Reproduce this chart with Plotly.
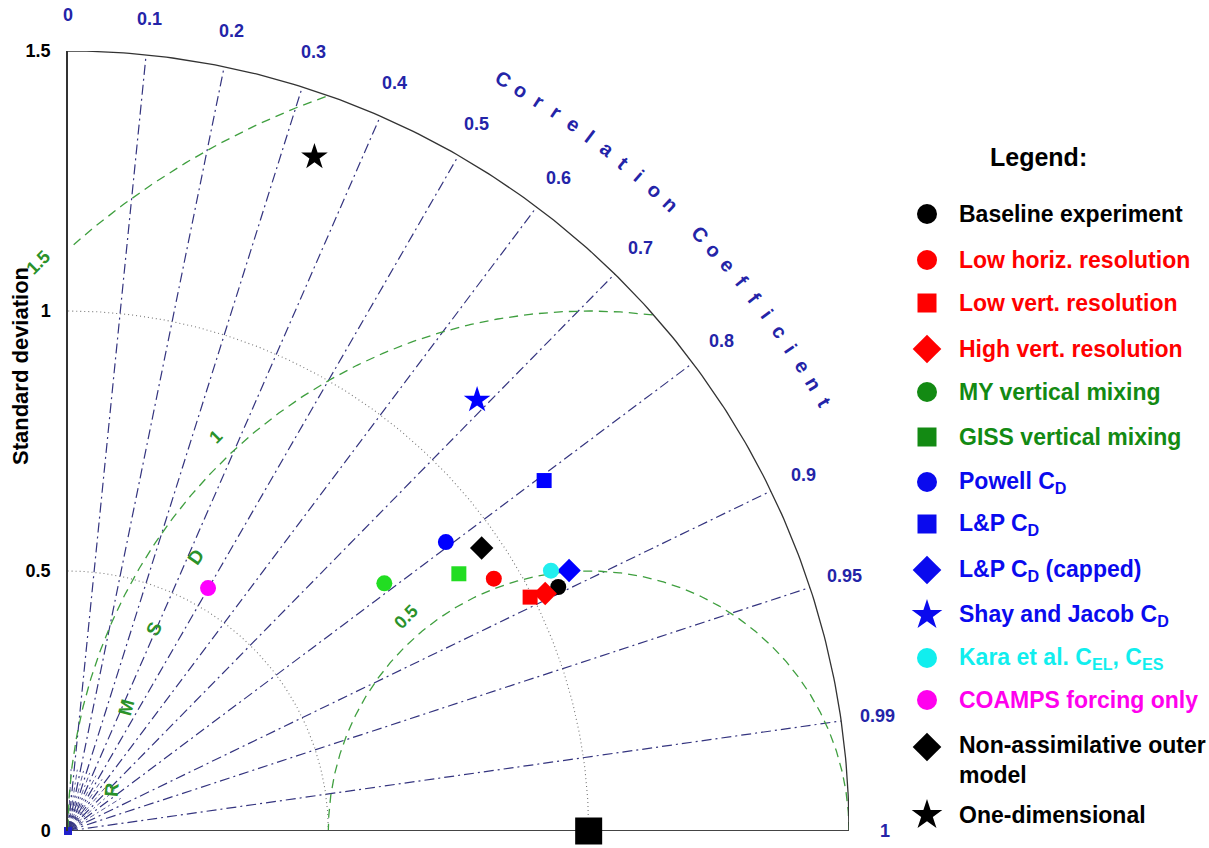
import numpy as np
import plotly.graph_objects as go

# ---------------- data ----------------
experiments = [
    "Baseline experiment", "Low horiz. resolution", "Low vert. resolution",
    "High vert. resolution", "MY vertical mixing", "GISS vertical mixing",
    "Powell C<sub>D</sub>", "L&amp;P C<sub>D</sub>", "L&amp;P C<sub>D</sub> (capped)",
    "Shay and Jacob C<sub>D</sub>", "Kara et al. C<sub>EL</sub>, C<sub>ES</sub>",
    "COAMPS forcing only", "Non-assimilative outer<br>model", "One-dimensional",
]
std_dev = [1.052, 0.951, 0.995, 1.024, 0.772, 0.899, 0.914, 1.136, 1.085,
           1.142, 1.054, 0.539, 0.963, 1.380]
correlation = [0.895, 0.860, 0.892, 0.895, 0.787, 0.835, 0.794, 0.805, 0.887,
               0.688, 0.880, 0.499, 0.825, 0.343]
symbols = ["circle", "circle", "square", "diamond", "circle", "square", "circle",
           "square", "diamond", "star", "circle", "circle", "diamond", "star"]
marker_colors = ["#000000", "#ff0000", "#ff0000", "#ff0000", "#22dd22", "#22dd22",
                 "#0000ff", "#0000ff", "#0000ff", "#0000ff", "#22eeee", "#ff00ff",
                 "#000000", "#000000"]
legend_colors = ["#000000", "#ff0000", "#ff0000", "#ff0000", "#138a13", "#138a13",
                 "#0a0aee", "#0a0aee", "#0a0aee", "#0a0aee", "#11eeee", "#ff00ee",
                 "#000000", "#000000"]
ref_std = 1.0
corr_ticks = [0.0, 0.1, 0.2, 0.3, 0.4, 0.5, 0.6, 0.7, 0.8, 0.9, 0.95, 0.99, 1.0]
corr_tick_labels = ["0", "0.1", "0.2", "0.3", "0.4", "0.5", "0.6", "0.7", "0.8",
                    "0.9", "0.95", "0.99", "1"]
corr_fine = [0.05, 0.15, 0.25, 0.35, 0.45, 0.55, 0.65, 0.75, 0.85]
std_ticks = [0, 0.5, 1, 1.5]
std_tick_labels = ["0", "0.5", "1", "1.5"]
std_arcs = [0.5, 1.0]
rmsd_levels = [0.5, 1.0, 1.5]
rmsd_labels = ["0.5", "1", "1.5"]
std_max = 1.5

# ---------------- geometry helpers ----------------
W, H = 1209, 848
X0, Y0, X1, Y1 = 68, 831, 849, 51          # pixel frame of the Taylor quadrant
SX, SY = (X1 - X0) / std_max, (Y0 - Y1) / std_max


def d2p(x, y):
    """data coordinates -> paper coordinates (paper = whole figure, margins are 0)"""
    return (X0 + x * SX) / W, 1 - (Y0 - y * SY) / H


FONT = "Liberation Sans"
CORR_BLUE = "#2424a8"
GRID_BLUE = "#34347f"
RMS_GREEN = "#3f9f3f"
LBL_GREEN = "#2a922a"

fig = go.Figure()


def add_line(x, y, color, width, dash):
    fig.add_trace(go.Scatter(x=x, y=y, mode="lines", hoverinfo="skip",
                             line=dict(color=color, width=width, dash=dash),
                             showlegend=False, cliponaxis=False))


# fine correlation lines near the origin
for r in corr_fine:
    th = np.arccos(r)
    add_line([0, 0.12 * np.cos(th)], [0, 0.12 * np.sin(th)], GRID_BLUE, 0.8, "5px,3px,2px,3px")

# correlation lines
for r in corr_ticks[1:-1]:
    th = np.arccos(r)
    add_line([0, std_max * np.cos(th)], [0, std_max * np.sin(th)], GRID_BLUE, 1.2,
             "10px,4px,2px,4px")

# std dotted arcs
t = np.linspace(0, np.pi / 2, 200)
for s in std_arcs:
    add_line(s * np.cos(t), s * np.sin(t), "#777777", 1.1, "1px,3px")

# RMSD circles
for rho in rmsd_levels:
    phi = np.linspace(0, np.pi, 600)
    xs = ref_std + rho * np.cos(phi)
    ys = rho * np.sin(phi)
    keep = (xs >= -1e-9) & (xs ** 2 + ys ** 2 <= std_max ** 2 + 1e-6)
    add_line(xs[keep], ys[keep], RMS_GREEN, 1.3, "9px,6px")

# outer arc and bottom axis
add_line(std_max * np.cos(t), std_max * np.sin(t), "#333333", 1.3, "solid")
add_line([0, std_max], [0, 0], "#444444", 2.2, "solid")

# origin mark and reference point
fig.add_trace(go.Scatter(x=[0], y=[0], mode="markers", showlegend=False, cliponaxis=False,
                         marker=dict(symbol="square", size=8, color="#2020cc")))
fig.add_trace(go.Scatter(x=[ref_std], y=[0], mode="markers", showlegend=False, cliponaxis=False,
                         marker=dict(symbol="square", size=27, color="#000000")))

# experiments
sizes_plot = {"circle": 16, "square": 15, "diamond": 18, "star": 20}
for name, s, r, sym, col in zip(experiments, std_dev, correlation, symbols, marker_colors):
    fig.add_trace(go.Scatter(
        x=[s * r], y=[s * np.sqrt(1 - r ** 2)], mode="markers", name=name,
        showlegend=False, cliponaxis=False,
        marker=dict(symbol=sym, size=sizes_plot[sym], color=col, line=dict(width=0))))

ann = []


def centred(x, y, text, size, color, angle=0, bold=True):
    ann.append(dict(x=x, y=y, text=text, showarrow=False, xref="paper", yref="paper",
                    xanchor="center", yanchor="middle", textangle=angle,
                    font=dict(family=FONT, size=size, color=color,
                              weight="bold" if bold else "normal")))


# correlation tick labels
for r, lab in zip(corr_ticks, corr_tick_labels):
    th = np.arccos(r)
    centred(*d2p(1.57 * np.cos(th), 1.57 * np.sin(th)), lab, 18, CORR_BLUE)

# curved "Correlation Coefficient"
title = "Correlation Coefficient"
for i, ch in enumerate(title):
    if ch == " ":
        continue
    ang = 60.0 - i * 1.382
    a = np.radians(ang)
    centred(*d2p(1.67 * np.cos(a), 1.67 * np.sin(a)), ch, 20, CORR_BLUE, angle=90 - ang)

# RMSD labels
rms_lab_ang = [130.5, 133.4, 134.0]
rms_lab_off = [0.04, 0.043, 0.02]
for rho, lab, ang, off in zip(rmsd_levels, rmsd_labels, rms_lab_ang, rms_lab_off):
    a = np.radians(ang)
    d = rho + off
    centred(*d2p(ref_std + d * np.cos(a), d * np.sin(a)), lab, 18, LBL_GREEN, angle=-45)
for k, ch in enumerate("RMSD"):
    phi = 175 - 10 * k
    a = np.radians(phi)
    centred(*d2p(ref_std + 0.92 * np.cos(a), 0.92 * np.sin(a)), ch, 19, LBL_GREEN,
            angle=-(phi - 90))

# y-axis title
centred(20 / W, 1 - 366 / H, "Standard deviation", 22, "#000000", angle=-90)

# ---------------- legend (drawn by hand on a pixel-unit subplot) ----------------
ann.append(dict(x=1038, y=157, text="Legend:", showarrow=False, xref="x2", yref="y2",
                xanchor="center", yanchor="middle",
                font=dict(family=FONT, size=25, color="#000000", weight="bold")))
row_y = [214, 260, 303, 349, 392, 437, 482, 524, 570, 615, 658, 700, 747, 815]
sizes_leg = {"circle": 20, "square": 19, "diamond": 22, "star": 23}
for name, sym, col, yy in zip(experiments, symbols, legend_colors, row_y):
    fig.add_trace(go.Scatter(x=[927], y=[yy], xaxis="x2", yaxis="y2", mode="markers",
                             showlegend=False, cliponaxis=False, hoverinfo="skip",
                             marker=dict(symbol=sym, size=sizes_leg[sym], color=col,
                                         line=dict(width=0))))
    ann.append(dict(x=957, y=yy + (13 if "<br>" in name else 0), text=name, showarrow=False,
                    xref="x2", yref="y2", xanchor="left", yanchor="middle", align="left",
                    font=dict(family=FONT, size=23, color=col, weight="bold")))

fig.update_layout(
    width=W, height=H,
    margin=dict(l=0, r=0, t=0, b=0, autoexpand=False),
    paper_bgcolor="white", plot_bgcolor="white",
    showlegend=False,
    annotations=ann,
    xaxis=dict(domain=[X0 / W, X1 / W], range=[0, std_max], showgrid=False, zeroline=False,
               showline=False, showticklabels=False, ticks="", fixedrange=True,
               automargin=False),
    yaxis=dict(domain=[1 - Y0 / H, 1 - Y1 / H], range=[0, std_max], showgrid=False,
               zeroline=False, showline=True, linecolor="#333333", linewidth=1.5,
               tickvals=std_ticks, ticktext=std_tick_labels, ticks="", ticklabelstandoff=12,
               tickfont=dict(family=FONT, size=18, color="#000000", weight="bold"),
               fixedrange=True, automargin=False),
    xaxis2=dict(domain=[870 / W, 1], range=[870, W], visible=False, fixedrange=True,
                automargin=False),
    yaxis2=dict(domain=[0, 1], range=[H, 0], visible=False, fixedrange=True,
                automargin=False),
)

fig.write_html("out.html")
